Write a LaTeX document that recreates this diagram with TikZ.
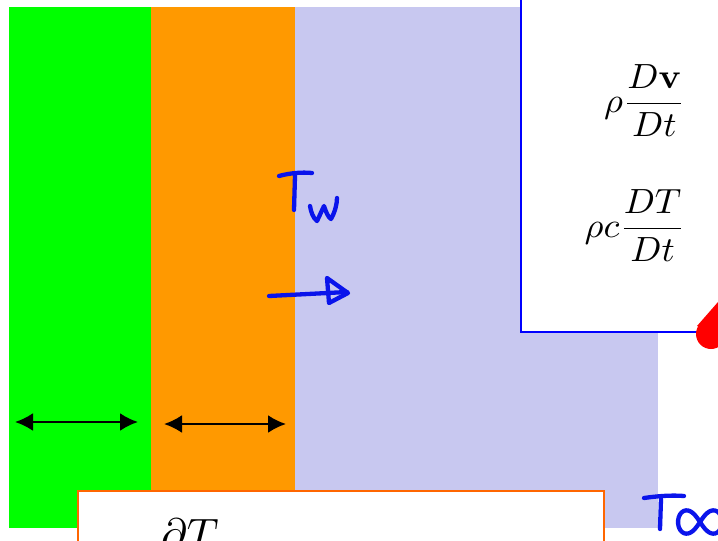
\documentclass[tikz,border=0pt]{standalone}
\usepackage{amsmath}
\usepackage{graphicx}
\usetikzlibrary{arrows.meta}
\definecolor{lgreen}{RGB}{0,255,0}
\definecolor{lorange}{RGB}{255,153,0}
\definecolor{lav}{RGB}{200,200,240}
\definecolor{hand}{RGB}{10,20,235}
\definecolor{boxorange}{RGB}{255,102,0}
\tikzset{
  handstroke/.style={draw=hand, line width=4.3pt, line cap=round, line join=round},
  dimarrow/.style={line width=2.4pt, {Latex[length=18pt,width=18pt]}-{Latex[length=18pt,width=18pt]}},
  eq/.style={inner sep=0pt},
}
\newcommand{\bigeq}[1]{\scalebox{3.65}[3.5]{#1}}
\begin{document}
\begin{tikzpicture}[x=1pt,y=-1pt]
\useasboundingbox (0,0) rectangle (718,541);
\clip (0,0) rectangle (718,541);
\fill[white] (0,0) rectangle (718,541);
% layers
\fill[lgreen] (9,7) rectangle (151,528);
\fill[lorange] (151,7) rectangle (295,528);
\fill[lav] (295,7) rectangle (658,528);
% equation box
\node[draw=blue, line width=2pt, fill=white, minimum width=230pt, minimum height=360pt, anchor=south west, inner sep=0pt] (eqbox) at (520,333) {};
\node[eq, anchor=base east] (e1) at (686,112) {\bigeq{$\rho\dfrac{D\mathbf{v}}{Dt}$}};
\node[eq, anchor=base east] (e2) at (686,237) {\bigeq{$\rho c\dfrac{DT}{Dt}$}};
% red marker
\fill[red] (711,334) circle (15);
\fill[red] (697,326) -- (732,286) -- (738,345) -- cycle;
% handwritten T_w
\draw[handstroke] (279,176) .. controls (290,173) and (302,172) .. (312,173);
\draw[handstroke] (295,176) -- (294,210);
\draw[handstroke] (310,206) .. controls (311,212) and (313,218) .. (317,221) .. controls (320,215) and (322,210) .. (324,206) .. controls (326,212) and (328,217) .. (331,219) .. controls (335,212) and (337,204) .. (337,198);
% handwritten arrow
\coordinate (ha) at (269,296);
\coordinate (hb) at (347,292);
\draw[handstroke] (ha) -- (hb);
\draw[handstroke] (327,278) -- (329,303) -- (348,293) -- cycle;
% dimension arrows
\coordinate (d1a) at (15,422);
\coordinate (d1b) at (138,422);
\coordinate (d2a) at (164,424);
\coordinate (d2b) at (286,424);
\draw[dimarrow] (d1a) -- (d1b);
\draw[dimarrow] (d2a) -- (d2b);
% bottom box
\node[draw=boxorange, line width=2pt, fill=white, minimum width=526pt, minimum height=80pt, anchor=north west, inner sep=0pt] (botbox) at (77,490) {};
\node[eq, anchor=north west] (dT) at (161,519) {\scalebox{4.4}{$\partial T$}};
% T infinity
\draw[handstroke] (644,498) .. controls (658,496) and (672,495) .. (684,496);
\draw[handstroke] (661,499) -- (660,529);
\draw[handstroke, domain=0:360, samples=60, smooth, variable=\t]
  plot ({700+22*cos(\t)/(1+sin(\t)^2)}, {522+1.5*22*sin(\t)*cos(\t)/(1+sin(\t)^2)});
\end{tikzpicture}
\end{document}
